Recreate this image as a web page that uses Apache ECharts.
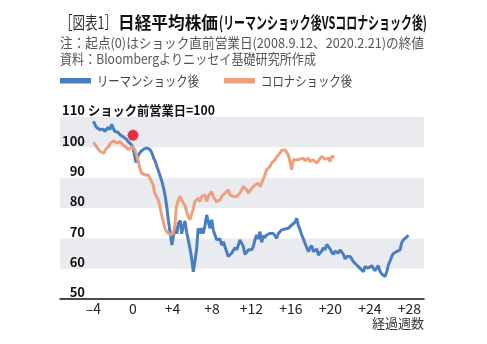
<!DOCTYPE html>
<html>
<head>
<meta charset="utf-8">
<script src="https://cdn.jsdelivr.net/npm/echarts@6/dist/echarts.min.js"></script>
<style>
  html, body { margin: 0; padding: 0; background: #fff; }
  #chart { width: 487px; height: 344px; }
</style>
</head>
<body>
<div id="chart"></div>
<script>
// 日経平均株価: ショック直前営業日 = 100, 横軸は経過週数
const weekTicks = [-4, 0, 4, 8, 12, 16, 20, 24, 28];
const yMin = 50, yMax = 110, yStep = 10;

// リーマンショック後 [経過週数, 指数]
const lehman = [
  [-4.0,108.6],[-3.85,107.5],[-3.7,106.6],[-3.5,106.2],[-3.35,105.8],[-3.2,105.6],[-3.0,106.0],[-2.85,105.2],
  [-2.65,105.8],[-2.5,106.6],[-2.35,105.8],[-2.15,107.6],[-2.0,106.3],[-1.85,105.3],[-1.65,104.7],[-1.5,104.9],
  [-1.3,104.1],[-1.15,103.8],[-1.0,103.5],[-0.8,103.0],[-0.65,102.6],[-0.5,101.9],[-0.3,101.4],[-0.15,100.9],[0,100],
  [0.2,99.7],[0.3,95.0],[0.42,96.4],[0.57,97.5],[0.78,98.6],[1.0,99.2],[1.26,99.7],[1.5,99.7],[1.74,99.2],
  [1.94,98.0],[2.1,96.4],[2.27,95.3],[2.43,93.6],[2.6,92.0],[2.77,90.4],[2.94,88.6],[3.1,86.5],[3.27,83.8],
  [3.44,79.9],[3.6,75.5],[3.77,71.6],[3.94,67.8],[4.1,67.5],[4.27,74.0],[4.44,71.5],[4.6,75.0],[4.8,75.8],
  [4.93,71.5],[5.1,74.0],[5.27,75.7],[5.43,72.0],[5.6,69.5],[5.77,66.7],[5.94,63.4],[6.11,59.0],[6.27,62.3],
  [6.45,66.7],[6.6,73.3],[6.78,71.6],[6.95,73.3],[7.12,71.6],[7.3,74.4],[7.46,77.7],[7.63,75.5],[7.8,73.3],
  [7.97,76.1],[8.13,72.8],[8.3,71.1],[8.47,69.5],[8.64,68.9],[8.81,69.8],[8.98,67.8],[9.15,68.9],[9.31,67.3],
  [9.48,66.7],[9.65,64.0],[9.82,63.4],[9.99,65.1],[10.16,64.5],[10.33,66.9],[10.5,66.2],[10.67,67.8],[10.83,69.5],
  [11.0,68.4],[11.17,67.3],[11.34,64.7],[11.51,64.5],[11.68,66.2],[11.85,65.8],[12.02,66.2],[12.18,67.3],[12.35,69.5],
  [12.52,71.1],[12.69,69.8],[12.86,72.2],[13.03,68.7],[13.2,70.9],[13.37,70.2],[13.54,71.1],[13.7,70.6],[13.87,71.6],
  [14.04,71.1],[14.21,71.6],[14.38,71.1],[14.55,70.0],[14.72,71.6],[14.89,72.2],[15.06,72.8],[15.23,72.8],[15.4,73.1],
  [15.56,72.8],[15.73,73.3],[15.9,73.6],[16.07,74.4],[16.24,75.0],[16.41,75.3],[16.58,76.6],[16.75,74.2],[16.92,72.8],
  [17.09,71.1],[17.26,69.8],[17.42,68.4],[17.59,67.8],[17.76,65.6],[17.93,66.9],[18.1,67.6],[18.27,65.6],[18.44,65.1],
  [18.61,66.5],[18.78,64.5],[18.95,64.0],[19.11,65.8],[19.28,66.9],[19.45,66.2],[19.62,68.0],[19.79,67.3],[19.96,66.5],
  [20.13,65.4],[20.3,64.7],[20.47,65.8],[20.64,66.2],[20.8,65.1],[20.97,66.2],[21.14,65.6],[21.31,64.7],[21.48,63.2],
  [21.65,64.0],[21.82,63.4],[21.99,64.0],[22.16,63.2],[22.33,62.3],[22.5,61.8],[22.66,61.2],[22.83,60.7],[23.0,60.1],
  [23.17,59.6],[23.34,59.0],[23.49,60.7],[23.66,61.2],[23.83,60.2],[24.0,59.6],[24.17,61.0],[24.33,60.4],[24.5,59.3],
  [24.67,59.0],[24.84,61.0],[25.0,59.3],[25.18,58.3],[25.34,57.8],[25.52,57.4],[25.7,59.0],[25.86,61.2],[26.03,62.5],
  [26.2,64.0],[26.36,65.0],[26.53,65.6],[26.7,65.6],[26.86,65.6],[27.04,66.2],[27.2,68.4],[27.37,69.5],[27.54,69.8],
  [27.71,70.4],[27.88,71.0]
];

// コロナショック後 [経過週数, 指数]
const corona = [
  [-4.0,101.6],[-3.8,100.8],[-3.6,99.7],[-3.45,99.2],[-3.3,98.6],[-3.1,99.2],[-2.95,98.1],[-2.8,99.2],[-2.6,99.7],
  [-2.45,100.3],[-2.3,101.4],[-2.1,101.9],[-1.95,102.1],[-1.8,101.9],[-1.6,101.4],[-1.45,101.4],[-1.3,101.9],
  [-1.1,101.0],[-0.95,100.8],[-0.8,100.3],[-0.6,99.7],[-0.45,99.2],[-0.3,99.7],[-0.1,100.3],[0,100],
  [0.2,99.2],[0.37,97.5],[0.54,95.3],[0.7,93.1],[0.87,91.5],[1.04,90.9],[1.2,90.9],[1.37,91.5],[1.54,90.9],
  [1.7,90.4],[1.88,88.7],[2.05,87.6],[2.2,84.9],[2.4,84.3],[2.56,82.7],[2.73,80.5],[2.9,77.7],[3.07,75.5],
  [3.24,73.3],[3.4,72.2],[3.57,71.6],[3.75,71.1],[3.9,71.1],[4.08,71.6],[4.25,74.4],[4.4,80.5],[4.6,82.7],
  [4.76,83.8],[4.93,82.7],[5.1,81.6],[5.27,80.9],[5.43,78.8],[5.6,77.2],[5.77,76.1],[5.94,76.6],[6.11,79.9],
  [6.27,82.1],[6.45,82.7],[6.6,83.2],[6.78,82.1],[6.95,83.8],[7.12,83.2],[7.3,84.3],[7.46,82.1],[7.63,83.8],
  [7.8,84.3],[7.97,85.4],[8.13,83.8],[8.3,83.8],[8.47,82.1],[8.64,81.6],[8.81,82.7],[8.98,83.8],[9.15,84.3],
  [9.31,84.9],[9.48,84.3],[9.65,86.0],[9.82,84.3],[9.99,84.3],[10.16,83.8],[10.33,84.3],[10.5,83.8],[10.67,84.3],
  [10.83,84.9],[11.0,86.0],[11.17,87.1],[11.34,86.5],[11.51,86.0],[11.68,84.9],[11.85,85.4],[12.02,86.5],[12.18,87.1],
  [12.35,87.6],[12.52,87.6],[12.69,88.2],[12.86,87.1],[13.03,88.2],[13.2,88.7],[13.37,90.9],[13.53,92.6],[13.7,93.2],
  [13.87,93.7],[14.04,94.8],[14.21,95.3],[14.38,95.9],[14.55,96.8],[14.72,97.4],[14.89,98.1],[15.05,99.0],[15.22,99.4],
  [15.39,99.2],[15.56,99.0],[15.73,97.5],[15.9,95.3],[16.07,92.6],[16.24,95.9],[16.4,96.4],[16.57,95.9],[16.74,96.2],
  [16.91,96.1],[17.08,96.0],[17.25,96.4],[17.42,95.6],[17.59,96.1],[17.76,96.4],[17.92,95.3],[18.1,94.8],[18.26,95.9],
  [18.43,95.3],[18.6,94.8],[18.77,95.5],[18.93,95.9],[19.1,97.0],[19.27,96.4],[19.44,96.1],[19.61,95.9],[19.78,96.4],
  [19.95,95.3],[20.12,97.0],[20.29,97.5],[20.4,96.8]
];

// 起点の目印
const shockMark = [0, 104];

const seriesNames = ['リーマンショック後', 'コロナショック後'];
const FONT = '"Noto Sans CJK JP", "Noto Sans", sans-serif';
const BLUE = '#4a7ec2';
const ORANGE = '#ee9f7b';

// measure text so that a line can be squeezed to a given width
const measureCtx = document.createElement('canvas').getContext('2d');
function fitText(text, x, y, width, size, weight, color) {
  const font = `${weight} ${size}px ${FONT}`;
  measureCtx.font = font;
  const w = measureCtx.measureText(text).width;
  return {
    type: 'text', x: x, y: y, scaleX: width / w, z: 10,
    style: { text: text, font: font, fill: color, align: 'left', verticalAlign: 'middle',
             textAlign: 'left', textVerticalAlign: 'middle' }
  };
}

// jagged burst symbol
function burstPath(spikes) {
  let d = '';
  for (let i = 0; i < spikes * 2; i++) {
    const r = i % 2 === 0 ? 50 : 40;
    const a = Math.PI * i / spikes;
    d += (i === 0 ? 'M' : 'L') + (50 + r * Math.cos(a)).toFixed(2) + ' ' + (50 + r * Math.sin(a)).toFixed(2);
  }
  return 'path://' + d + 'Z';
}

const chart = echarts.init(document.getElementById('chart'), null, { renderer: 'canvas' });

const graphics = [
  fitText('［図表1］', 60, 23, 57, 17, 'normal', '#333'),
  fitText('日経平均株価', 118, 23, 100, 17, 'bold', '#111'),
  fitText('(リーマンショック後VSコロナショック後)', 219, 23, 208, 17, 'bold', '#111'),
  fitText('注：起点(0)はショック直前営業日(2008.9.12、2020.2.21)の終値', 60, 43, 364, 13.5, 'normal', '#555'),
  fitText('資料：Bloombergよりニッセイ基礎研究所作成', 60, 59, 256, 13.5, 'normal', '#555'),
  { type: 'rect', shape: { x: 60, y: 78, width: 31, height: 5.5 }, style: { fill: BLUE } },
  fitText(seriesNames[0], 97, 81, 102, 13.5, 'normal', '#444'),
  { type: 'rect', shape: { x: 224, y: 78, width: 31, height: 5.5 }, style: { fill: ORANGE } },
  fitText(seriesNames[1], 261, 81, 91, 13.5, 'normal', '#444'),
  fitText('ショック前営業日=100', 88, 110, 127, 13, 'bold', '#111'),
  { type: 'text', right: 63, top: 317, z: 10,
    style: { text: '経過週数', font: `normal 13px ${FONT}`, fill: '#333' } }
];

chart.setOption({
  animation: false,
  backgroundColor: '#fff',
  textStyle: { fontFamily: FONT },
  grid: { left: 60, right: 63, top: 117, bottom: 45 },
  xAxis: {
    type: 'value',
    min: -7.39,
    max: 29.47,
    splitLine: { show: false },
    axisTick: { show: false },
    axisLine: { show: true, onZero: false, lineStyle: { color: '#111', width: 1.5 } },
    axisLabel: {
      customValues: weekTicks,
      margin: 3,
      fontSize: 14,
      color: '#222',
      fontFamily: FONT,
      formatter: v => v > 0 ? '+' + v : (v < 0 ? '–' + Math.abs(v) : '0')
    }
  },
  yAxis: {
    type: 'value',
    min: yMin, max: yMax, interval: yStep,
    axisLine: { show: false },
    axisTick: { show: false },
    splitLine: { show: false },
    splitArea: { show: true, areaStyle: { color: ['#ffffff', '#e9ebee'] } },
    axisLabel: {
      margin: -25,
      align: 'right',
      verticalAlign: 'bottom',
      fontSize: 13,
      fontWeight: 'bold',
      color: '#111',
      fontFamily: FONT,
      showMaxLabel: true,
      showMinLabel: true
    }
  },
  graphic: graphics,
  series: [
    {
      name: seriesNames[0], type: 'line', data: lehman, showSymbol: false, symbol: 'none',
      lineStyle: { color: BLUE, width: 3 }, itemStyle: { color: BLUE }, z: 3
    },
    {
      name: seriesNames[1], type: 'line', data: corona, showSymbol: false, symbol: 'none',
      lineStyle: { color: ORANGE, width: 3 }, itemStyle: { color: ORANGE }, z: 4
    },
    {
      name: '起点', type: 'scatter', data: [shockMark], symbol: burstPath(14), symbolSize: 12,
      itemStyle: { color: '#e60012' }, z: 5, silent: true
    }
  ]
});
</script>
</body>
</html>
